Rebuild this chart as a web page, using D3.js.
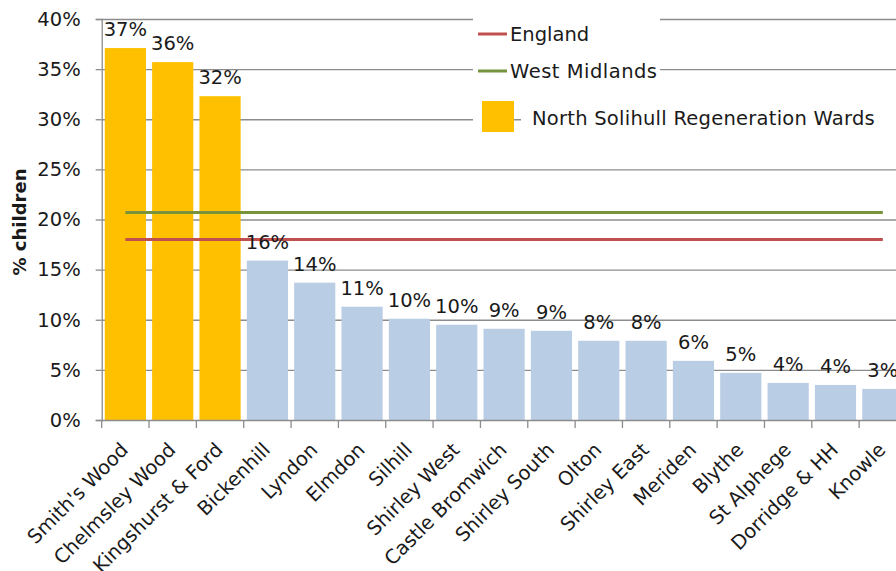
<!DOCTYPE html>
<html>
<head>
<meta charset="utf-8">
<script src="https://cdn.jsdelivr.net/npm/d3@7"></script>
<style>
  html, body { margin: 0; padding: 0; background: #fff; }
  svg { display: block; }
  text { font-family: "DejaVu Sans", sans-serif; fill: #1a1a1a; }
</style>
</head>
<body>
<svg id="chart" width="896" height="571"></svg>
<script>
// ---- data ----
const categories = ["Smith's Wood", "Chelmsley Wood", "Kingshurst & Ford", "Bickenhill", "Lyndon", "Elmdon", "Silhill", "Shirley West", "Castle Bromwich", "Shirley South", "Olton", "Shirley East", "Meriden", "Blythe", "St Alphege", "Dorridge & HH", "Knowle"];
const values = [37.1, 35.7, 32.3, 15.9, 13.7, 11.3, 10.1, 9.5, 9.1, 8.9, 7.9, 7.9, 5.9, 4.7, 3.7, 3.5, 3.1];
const regenerationWards = ["Smith's Wood", "Chelmsley Wood", "Kingshurst & Ford"];
const englandValue = 18.0;
const westMidlandsValue = 20.7;
const yTicks = [0, 5, 10, 15, 20, 25, 30, 35, 40];
const legendLabels = ["England", "West Midlands", "North Solihull Regeneration Wards"];

// ---- styles ----
const colOrange = "#ffc000", colBlue = "#b9cde5", colRed = "#c0504d", colGreen = "#77933c";
const gridCol = "#8c8c8c";
const fs = 19.5;

const svg = d3.select("#chart");

const x = d3.scaleBand().domain(categories).range([101.7, 906.5]).paddingInner(0.13).paddingOuter(0.065);
const y = d3.scaleLinear().domain([0, 40]).range([420, 19]);

// gridlines
svg.append("g").selectAll("line").data(yTicks.filter(d => d > 0)).join("line")
  .attr("x1", 101.7).attr("x2", 896)
  .attr("y1", d => y(d) + 0.5).attr("y2", d => y(d) + 0.5)
  .attr("stroke", gridCol).attr("stroke-width", 1.3);

// legend backgrounds (cover gridlines)
svg.append("rect").attr("x", 473).attr("y", 8).attr("width", 187).attr("height", 80).attr("fill", "#fff");
svg.append("rect").attr("x", 473).attr("y", 100).attr("width", 9).attr("height", 36).attr("fill", "#fff");
svg.append("rect").attr("x", 521).attr("y", 100).attr("width", 375).attr("height", 36).attr("fill", "#fff");

// bars
svg.append("g").selectAll("rect").data(categories).join("rect")
  .attr("x", d => x(d))
  .attr("width", x.bandwidth())
  .attr("y", (d, i) => y(values[i]))
  .attr("height", (d, i) => y(0) - y(values[i]))
  .attr("fill", d => regenerationWards.includes(d) ? colOrange : colBlue);

// reference lines from first to last band centre
const xFirst = x(categories[0]) + x.bandwidth() / 2;
const xLast = x(categories[categories.length - 1]) + x.bandwidth() / 2;
svg.append("line").attr("x1", xFirst).attr("x2", xLast)
  .attr("y1", y(westMidlandsValue)).attr("y2", y(westMidlandsValue))
  .attr("stroke", colGreen).attr("stroke-width", 3);
svg.append("line").attr("x1", xFirst).attr("x2", xLast)
  .attr("y1", y(englandValue)).attr("y2", y(englandValue))
  .attr("stroke", colRed).attr("stroke-width", 3);

// data labels
svg.append("g").selectAll("text").data(categories).join("text")
  .attr("x", d => x(d) + x.bandwidth() / 2)
  .attr("y", (d, i) => y(values[i]) - 12)
  .attr("text-anchor", "middle")
  .attr("font-size", fs)
  .text((d, i) => Math.round(values[i]) + "%");

// y axis
const yAxis = d3.axisLeft(y).tickValues(yTicks).tickFormat(d => d + "%").tickSize(6).tickPadding(15);
const gy = svg.append("g").attr("transform", "translate(101.7,0)").call(yAxis);
gy.select(".domain").attr("stroke", gridCol).attr("stroke-width", 1.3);
gy.selectAll(".tick line").attr("stroke", gridCol).attr("stroke-width", 1.3);
gy.selectAll(".tick text").attr("font-size", fs).attr("font-family", "DejaVu Sans").attr("fill", "#1a1a1a");

// x axis: ticks at band boundaries
const boundaries = categories.map(c => x(c) - x.step() * x.paddingInner() / 2);
svg.append("line").attr("x1", 101.7).attr("x2", 896).attr("y1", 420.5).attr("y2", 420.5)
  .attr("stroke", gridCol).attr("stroke-width", 1.3);
svg.append("g").selectAll("line").data(boundaries).join("line")
  .attr("x1", d => d).attr("x2", d => d).attr("y1", 420).attr("y2", 428)
  .attr("stroke", gridCol).attr("stroke-width", 1.3);

// x labels
svg.append("g").selectAll("text").data(categories).join("text")
  .attr("transform", d => `translate(${x(d) + x.bandwidth() / 2 + 4},${451}) rotate(-45)`)
  .attr("text-anchor", "end")
  .attr("font-size", fs)
  .text(d => d);

// y title
svg.append("text")
  .attr("transform", "translate(26,222) rotate(-90)")
  .attr("text-anchor", "middle")
  .attr("font-family", "Liberation Sans")
  .attr("font-weight", "bold")
  .attr("font-size", 18)
  .text("% children");

// legend
svg.append("line").attr("x1", 478).attr("x2", 507).attr("y1", 34).attr("y2", 34).attr("stroke", colRed).attr("stroke-width", 3);
svg.append("text").attr("x", 510).attr("y", 41).attr("font-size", fs).text(legendLabels[0]);
svg.append("line").attr("x1", 478).attr("x2", 507).attr("y1", 71).attr("y2", 71).attr("stroke", colGreen).attr("stroke-width", 3);
svg.append("text").attr("x", 510).attr("y", 78).attr("font-size", fs).attr("letter-spacing", 0.5).text(legendLabels[1]);
svg.append("rect").attr("x", 482).attr("y", 101).attr("width", 32).attr("height", 31).attr("fill", colOrange);
svg.append("text").attr("x", 532).attr("y", 125).attr("font-size", fs).attr("letter-spacing", 0.25).text(legendLabels[2]);
</script>
</body>
</html>
